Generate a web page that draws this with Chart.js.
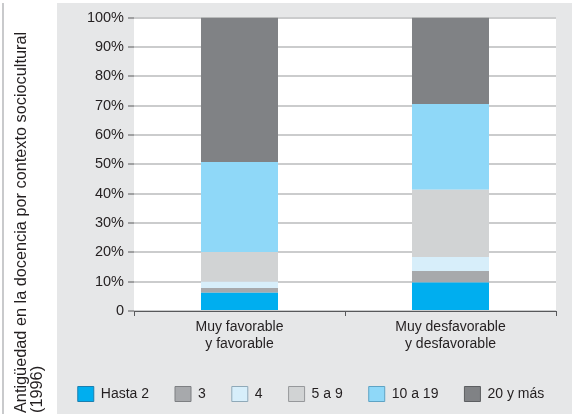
<!DOCTYPE html>
<html>
<head>
<meta charset="utf-8">
<script src="https://cdn.jsdelivr.net/npm/chart.js@4/dist/chart.umd.min.js"></script>
<style>
  html, body { margin: 0; padding: 0; background: #ffffff; }
  #wrap { width: 572px; height: 414px; position: relative; }
</style>
</head>
<body>
<div id="wrap"><canvas id="chart" width="572" height="414"></canvas></div>
<script>
// Categories (contexto sociocultural), two lines each
const categories = [
  ['Muy favorable', 'y favorable'],
  ['Muy desfavorable', 'y desfavorable']
];

// Series: años de antigüedad en la docencia
const seriesNames = ['Hasta 2', '3', '4', '5 a 9', '10 a 19', '20 y más'];

// Porcentaje de docentes por tramo, en el orden de las categorías
const hasta2          = [6.2, 9.7];
const tres            = [1.6, 3.9];
const cuatro          = [2.2, 4.8];
const cincoANueve     = [10.1, 22.9];
const diezADiecinueve = [30.7, 29.2];
const veinteOMas      = [49.2, 29.5];

// Y axis tick labels (every 10 %)
const yTickLabels = ['0', '10%', '20%', '30%', '40%', '50%', '60%', '70%', '80%', '90%', '100%'];

const axisTitle = ['Antigüedad en la docencia por contexto sociocultural', '(1996)'];

const seriesValues = [hasta2, tres, cuatro, cincoANueve, diezADiecinueve, veinteOMas];
const fillColors   = ['#00aeef', '#a7a9ac', '#d7eefa', '#d1d3d4', '#8fd8f8', '#808285'];
const edgeColors   = ['#1b7fb0', '#7d7f82', '#8fa9b8', '#96989b', '#5ea3c4', '#5c5e61'];

const PANEL_LEFT = 57;     // left edge of the grey panel
const PANEL_TOP = 3;
const PLOT_LEFT = 134;     // left edge of the white plot area
const LAYOUT_LEFT = 50;    // layout inset, also sets where the legend row is centred
const RIGHT_GAP = 16;      // space kept right of the plot area
const TEXT_COLOR = '#231f20';
const FONT = "'Liberation Sans', Arial, Helvetica, sans-serif";

Chart.defaults.font.family = FONT;
Chart.defaults.color = TEXT_COLOR;

// Grey panel, white plot area, left rule and the rotated axis title
const backdrop = {
  id: 'backdrop',
  beforeDraw(chart) {
    const { ctx, chartArea: a, width, height } = chart;
    ctx.save();
    ctx.fillStyle = '#ffffff';
    ctx.fillRect(0, 0, width, height);
    ctx.fillStyle = '#e6e7e8';
    ctx.fillRect(PANEL_LEFT, PANEL_TOP, width - PANEL_LEFT, height - PANEL_TOP);
    ctx.fillStyle = '#ffffff';
    ctx.fillRect(a.left, a.top, a.right - a.left, a.bottom - a.top);
    ctx.fillStyle = '#c9cacc';
    ctx.fillRect(2, PANEL_TOP, 2, height - PANEL_TOP);

    ctx.translate(0, height);
    ctx.rotate(-Math.PI / 2);
    ctx.fillStyle = TEXT_COLOR;
    ctx.font = '16.3px ' + FONT;
    ctx.textAlign = 'left';
    ctx.textBaseline = 'alphabetic';
    ctx.fillText(axisTitle[0], 1, 26);
    ctx.fillText(axisTitle[1], 1, 42);
    ctx.restore();
  }
};

new Chart(document.getElementById('chart'), {
  type: 'bar',
  data: {
    labels: categories,
    datasets: seriesNames.map((name, i) => ({
      label: name,
      data: seriesValues[i],
      backgroundColor: fillColors[i],
      borderColor: edgeColors[i],
      borderWidth: 0,
      categoryPercentage: 1,
      barPercentage: 0.365
    }))
  },
  options: {
    responsive: false,
    devicePixelRatio: 1,
    animation: false,
    layout: { padding: { left: LAYOUT_LEFT, right: 0, top: 17.5, bottom: 2.5 } },
    plugins: {
      tooltip: { enabled: false },
      legend: {
        position: 'bottom',
        align: 'center',
        labels: {
          boxWidth: 16,
          boxHeight: 15,
          padding: 26,
          color: TEXT_COLOR,
          font: { size: 14 },
          generateLabels(chart) {
            const items = Chart.defaults.plugins.legend.labels.generateLabels(chart);
            items.forEach((it, i) => { it.lineWidth = 1; it.strokeStyle = edgeColors[i]; });
            return items;
          }
        }
      }
    },
    scales: {
      x: {
        stacked: true,
        offset: true,
        grid: {
          offset: true,
          drawOnChartArea: false,
          drawTicks: true,
          tickLength: 5,
          tickColor: '#58595b',
          tickWidth: 1
        },
        border: { display: true, color: '#58595b', width: 1 },
        ticks: {
          color: TEXT_COLOR,
          font: { size: 14, lineHeight: 1.25 },
          padding: 2,
          maxRotation: 0,
          autoSkip: false
        },
        afterFit(scale) { scale.height = 49.5; }
      },
      y: {
        stacked: true,
        min: 0,
        max: 100,
        grid: {
          color: '#cbcccd',
          lineWidth: 2,
          tickLength: 6,
          tickColor: '#58595b',
          tickWidth: 1
        },
        border: { display: false },
        ticks: {
          stepSize: 10,
          padding: 4,
          color: TEXT_COLOR,
          font: { size: 14.5 },
          callback: (v) => yTickLabels[Math.round(v / 10)]
        },
        afterFit(scale) { scale.width = PLOT_LEFT - LAYOUT_LEFT; }
      },
      // empty right-hand axis that only reserves the gap after the plot area
      gap: {
        position: 'right',
        display: true,
        min: 0,
        max: 100,
        grid: { display: false, drawTicks: false },
        border: { display: false },
        ticks: { display: false },
        afterFit(scale) { scale.width = RIGHT_GAP; }
      }
    }
  },
  plugins: [backdrop]
});
</script>
</body>
</html>
